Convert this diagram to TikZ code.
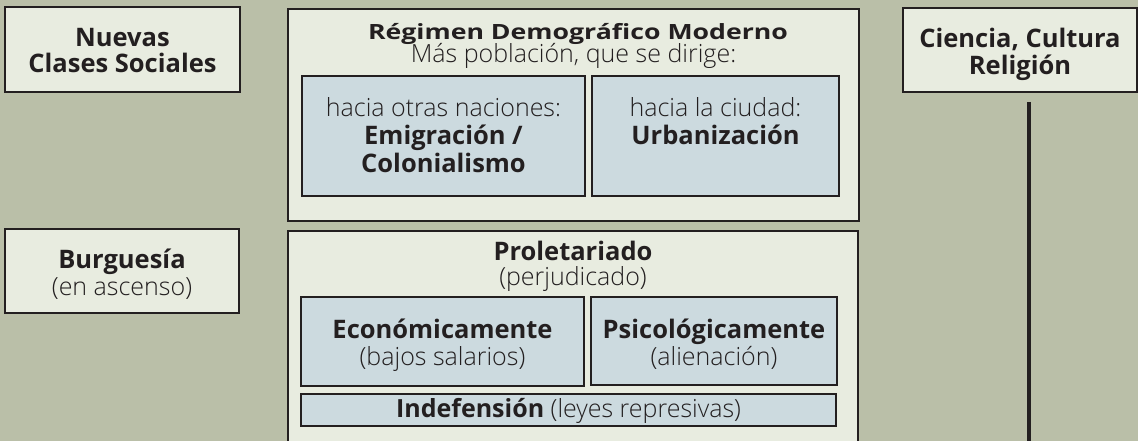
\documentclass[tikz,border=0pt]{standalone}
\usepackage{fontspec}
\setmainfont{Open Sans}
\newfontfamily\ligera{Open Sans Light}
\newfontfamily\ancha{Open Sans}[FakeStretch=1.27]

\definecolor{fondo}{RGB}{186,191,168}
\definecolor{claro}{RGB}{232,236,224}
\definecolor{celeste}{RGB}{204,218,223}
\definecolor{borde}{RGB}{35,31,32}

\begin{document}
\begin{tikzpicture}[x=1pt,y=-1pt,
    caja/.style={draw=borde, line width=2pt, fill=claro, inner sep=0pt, outer sep=0pt},
    azul/.style={caja, fill=celeste},
    negrita/.style={inner sep=0pt, anchor=base, text=borde, font=\fontsize{25.5}{27}\selectfont\bfseries},
    fina/.style={inner sep=0pt, anchor=base, text=borde, font=\fontsize{25}{27}\selectfont\ligera}]

    \useasboundingbox (0,0) rectangle (1138,441);
    \fill[fondo] (0,0) rectangle (1138,441);
    \clip (0,0) rectangle (1138,441);

    % Left column
    \node[caja, minimum width=235pt, minimum height=85pt] (nuevas) at (122.5,49.5) {};
    \node[caja, minimum width=234pt, minimum height=84pt] (burguesia) at (122,271) {};

    % Regimen demografico
    \node[caja, minimum width=571pt, minimum height=212pt] (regimen) at (573.5,115) {};
    \node[azul, minimum width=283pt, minimum height=120pt] (naciones) at (443.5,136) {};
    \node[azul, minimum width=247pt, minimum height=120pt] (ciudad) at (715.5,136) {};

    % Proletariado
    \node[caja, minimum width=570pt, minimum height=216pt] (proletariado) at (573,339) {};
    \node[azul, minimum width=283pt, minimum height=89pt] (economia) at (442.5,341.5) {};
    \node[azul, minimum width=246pt, minimum height=88pt] (psique) at (714,341) {};
    \node[azul, minimum width=535pt, minimum height=32pt] (indefension) at (568.5,410) {};

    % Right column
    \node[caja, minimum width=234pt, minimum height=84pt] (ciencia) at (1020,50) {};
    \coordinate (fin) at (1029,445);
    \draw[borde, line width=4.5pt, shorten <=10pt] (ciencia.south -| fin) -- (fin);

    % Texts
    \node[negrita] (tnuevas) at (122.5,47) {Nuevas};
    \node[negrita] (tclases) at (122.5,73) {Clases Sociales};
    \node[negrita] (tburguesia) at (122,268) {Burguesía};
    \node[fina] (tascenso) at (122,295) {(en ascenso)};

    \node[negrita, font=\fontsize{21}{23}\selectfont\ancha\bfseries] (tregimen) at (578,40) {Régimen Demográfico Moderno};
    \node[fina] (tpoblacion) at (573.5,63) {Más población, que se dirige:};
    \node[fina] (totras) at (443.5,117) {hacia otras naciones:};
    \node[negrita] (temigracion) at (443.5,145) {Emigración /};
    \node[negrita] (tcolonialismo) at (443.5,172) {Colonialismo};
    \node[fina] (tciudad) at (715.5,117) {hacia la ciudad:};
    \node[negrita] (turbanizacion) at (715.5,145) {Urbanización};

    \node[negrita] (tproletariado) at (573,260) {Proletariado};
    \node[fina] (tperjudicado) at (573,285) {(perjudicado)};
    \node[negrita] (teconomia) at (442.5,338) {Económicamente};
    \node[fina] (tsalarios) at (442.5,365) {(bajos salarios)};
    \node[negrita] (tpsique) at (714,338) {Psicológicamente};
    \node[fina] (talienacion) at (714,365) {(alienación)};
    \node[fina] (tindefension) at (568.5,417) {{\normalfont\bfseries Indefensión} (leyes represivas)};

    \node[negrita] (tciencia) at (1020,48) {Ciencia, Cultura};
    \node[negrita] (treligion) at (1020,75) {Religión};

\end{tikzpicture}
\end{document}
